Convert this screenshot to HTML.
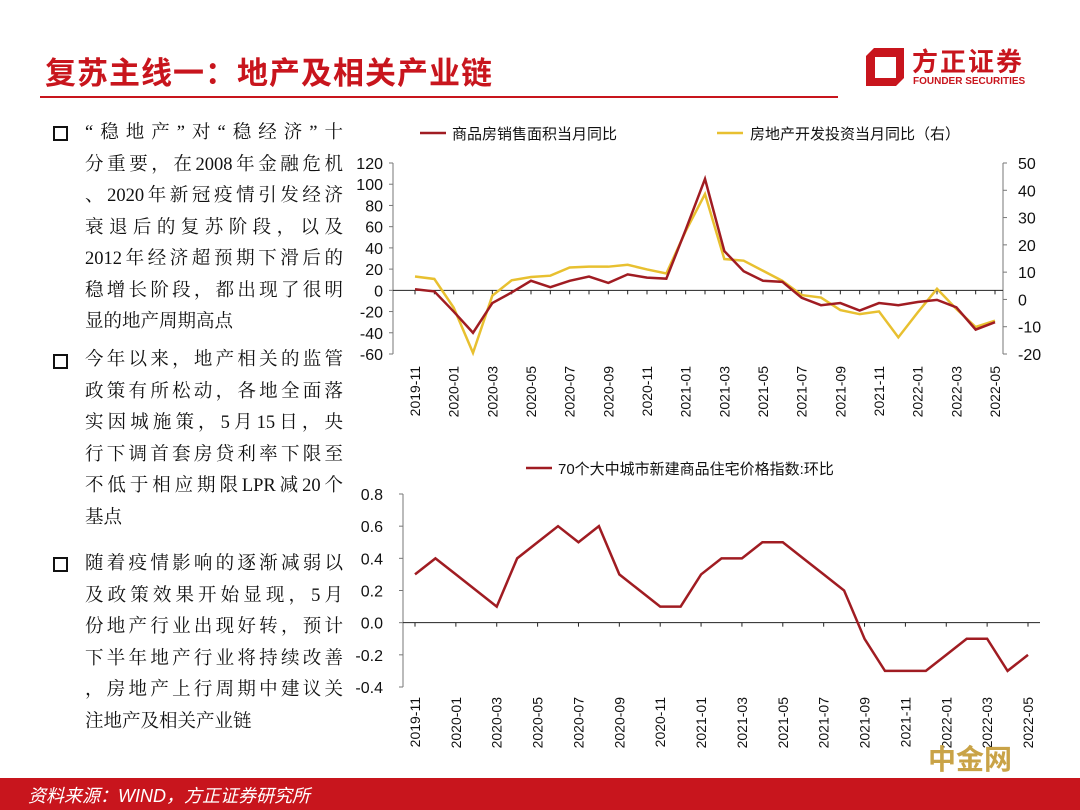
<!DOCTYPE html>
<html><head><meta charset="utf-8">
<style>
body{margin:0;width:1080px;height:810px;overflow:hidden;background:#fff;position:relative;font-family:"Liberation Serif","Noto Serif CJK SC",serif}
.t{position:absolute}
.para div{height:31.5px;line-height:31.5px;font-size:18.5px;color:#111;text-align:justify;text-align-last:justify;width:258px;white-space:nowrap}
.para div.l{text-align-last:left}
.box{position:absolute;left:53px;width:11px;height:11px;border:2px solid #111}
svg text{font-family:"Liberation Sans","Noto Sans CJK SC",sans-serif}
</style></head><body>
<div class="t" style="left:45px;top:48px;font-size:31px;font-weight:bold;color:#c8151d;font-family:'Liberation Sans','Noto Sans CJK SC',sans-serif;letter-spacing:1px">复苏主线一：地产及相关产业链</div>
<div class="t" style="left:40px;top:96px;width:798px;height:2px;background:#c8151d"></div>
<div class="t" style="left:864px;top:42px;width:180px;height:50px">
 <svg width="44" height="44" viewBox="0 0 44 44" style="position:absolute;left:0;top:2px"><path d="M10 4 L40 4 L40 34 L32 42 L2 42 L2 12 Z" fill="#c8151d"/><rect x="11" y="13" width="21" height="21" fill="#fff"/></svg>
 <div style="position:absolute;left:48px;top:0;font-size:26px;font-weight:bold;color:#c8151d;font-family:'Noto Sans CJK SC',sans-serif;letter-spacing:2px">方正证券</div>
 <div style="position:absolute;left:49px;top:34px;font-size:10px;font-weight:bold;color:#c8151d;font-family:'Liberation Sans',sans-serif">FOUNDER SECURITIES</div>
</div>

<div class="box" style="top:126px"></div>
<div class="t para" style="left:85px;top:118px">
<div>“稳地产”对“稳经济”十</div><div>分重要，在2008年金融危机</div><div>、2020年新冠疫情引发经济</div><div>衰退后的复苏阶段，以及</div><div>2012年经济超预期下滑后的</div><div>稳增长阶段，都出现了很明</div><div class="l">显的地产周期高点</div></div>
<div class="box" style="top:354px"></div>
<div class="t para" style="left:85px;top:345px">
<div>今年以来，地产相关的监管</div><div>政策有所松动，各地全面落</div><div>实因城施策，5月15日，央</div><div>行下调首套房贷利率下限至</div><div>不低于相应期限LPR减20个</div><div class="l">基点</div></div>
<div class="box" style="top:557px"></div>
<div class="t para" style="left:85px;top:549px">
<div>随着疫情影响的逐渐减弱以</div><div>及政策效果开始显现，5月</div><div>份地产行业出现好转，预计</div><div>下半年地产行业将持续改善</div><div>，房地产上行周期中建议关</div><div class="l">注地产及相关产业链</div></div>

<svg id="chart" width="1080" height="810" style="position:absolute;left:0;top:0"></svg>

<div class="t" style="left:0;top:778px;width:1080px;height:32px;background:#c8151d"></div>
<div class="t" style="left:28px;top:782px;font-size:18px;color:#fff;font-style:italic;font-family:'Liberation Sans','Noto Sans CJK SC',sans-serif">资料来源：WIND，方正证券研究所</div>
<div class="t" style="left:928px;top:738px;font-size:28px;font-weight:bold;color:#c9a347;font-family:'Noto Sans CJK SC',sans-serif">中金网</div>

<script>
const months=[];(function(){let y=2019,m=11;for(let i=0;i<31;i++){months.push(y+'-'+String(m).padStart(2,'0'));m++;if(m>12){m=1;y++;}}})();
const salesYoY=[1,-1,-20,-40,-12,-2,9,3,9,13,7,15,12,11,57,105,37,18,9,8,-7,-14,-12,-19,-12,-14,-11,-9,-16,-37,-30];
const investYoY=[8.4,7.5,-3,-19.6,1.4,7,8.2,8.7,11.7,12,12,12.7,11,9.5,25,38.6,14.8,14.2,10.5,6.8,1.6,0.7,-3.9,-5.4,-4.4,-13.9,-4.8,3.9,-3.5,-10.1,-7.8];
const priceMoM=[0.3,0.4,0.3,0.2,0.1,0.4,0.5,0.6,0.5,0.6,0.3,0.2,0.1,0.1,0.3,0.4,0.4,0.5,0.5,0.4,0.3,0.2,-0.1,-0.3,-0.3,-0.3,-0.2,-0.1,-0.1,-0.3,-0.2];
const leftTicks=[120,100,80,60,40,20,0,-20,-40,-60];
const rightTicks=[50,40,30,20,10,0,-10,-20];
const bottomTicks=[0.8,0.6,0.4,0.2,0.0,-0.2,-0.4];

const svg=document.getElementById('chart');const NS='http://www.w3.org/2000/svg';
function mk(tag,attrs,txt){const e=document.createElementNS(NS,tag);for(const k in attrs)e.setAttribute(k,attrs[k]);if(txt!==undefined)e.textContent=txt;svg.appendChild(e);return e;}

// top chart scales
const tx=i=>415+i*(995-415)/30;
const ty=v=>291-(v)*(354-163)/180*1;
const tyL=v=>163+(120-v)*(354-163)/180;
const tyR=v=>163+(50-v)*(354-163)/70;
// axes
let e;
e=mk('line',{x1:393,y1:163,x2:393,y2:354,stroke:'#777','stroke-width':1});
e=mk('line',{x1:1003,y1:163,x2:1003,y2:354,stroke:'#777','stroke-width':1});
leftTicks.forEach(v=>{const y=tyL(v);mk('line',{x1:389,y1:y,x2:393,y2:y,stroke:'#777'});
 e=mk('text',{x:383,y:y+6,'text-anchor':'end','font-size':16,fill:'#111'},String(v));});
rightTicks.forEach(v=>{const y=tyR(v);mk('line',{x1:1003,y1:y,x2:1007,y2:y,stroke:'#777'});
 e=mk('text',{x:1018,y:y+6,'font-size':16,fill:'#111'},String(v));});
e=mk('line',{x1:393,y1:tyL(0),x2:1003,y2:tyL(0),stroke:'#222','stroke-width':1});
months.forEach((m,i)=>{const x=tx(i);mk('line',{x1:x,y1:tyL(0),x2:x,y2:tyL(0)+4,stroke:'#222'});
 if(i%2===0){e=mk('text',{x:0,y:0,'font-size':14,fill:'#111','text-anchor':'end',transform:`translate(${x+5},366) rotate(-90)`},m);}});
e=mk('polyline',{points:investYoY.map((v,i)=>tx(i)+','+tyR(v)).join(' '),fill:'none',stroke:'#e8c030','stroke-width':2.5});
e=mk('polyline',{points:salesYoY.map((v,i)=>tx(i)+','+tyL(v)).join(' '),fill:'none',stroke:'#a01c22','stroke-width':2.5});
// legend
mk('line',{x1:420,y1:133,x2:446,y2:133,stroke:'#a01c22','stroke-width':2.5});
e=mk('text',{x:452,y:139,'font-size':15,fill:'#111'},'商品房销售面积当月同比');
mk('line',{x1:717,y1:133,x2:743,y2:133,stroke:'#e8c030','stroke-width':2.5});
e=mk('text',{x:750,y:139,'font-size':15,fill:'#111'},'房地产开发投资当月同比（右）');

// bottom chart
const bx=i=>415+i*(1028-415)/30;
const by=v=>494+(0.8-v)*(687-494)/1.2;
e=mk('line',{x1:403,y1:494,x2:403,y2:687,stroke:'#777'});
bottomTicks.forEach(v=>{const y=by(v);mk('line',{x1:399,y1:y,x2:403,y2:y,stroke:'#777'});
 e=mk('text',{x:383,y:y+6,'text-anchor':'end','font-size':16,fill:'#111'},v.toFixed(1));});
e=mk('line',{x1:403,y1:by(0),x2:1040,y2:by(0),stroke:'#222'});
months.forEach((m,i)=>{const x=bx(i);if(i%2===0)mk('line',{x1:x,y1:by(0),x2:x,y2:by(0)+4,stroke:'#222'});
 if(i%2===0){e=mk('text',{x:0,y:0,'font-size':14,fill:'#111','text-anchor':'end',transform:`translate(${x+5},697) rotate(-90)`},m);}});
e=mk('polyline',{points:priceMoM.map((v,i)=>bx(i)+','+by(v)).join(' '),fill:'none',stroke:'#a01c22','stroke-width':2.5});
mk('line',{x1:526,y1:468,x2:552,y2:468,stroke:'#a01c22','stroke-width':2.5});
e=mk('text',{x:558,y:474,'font-size':15,fill:'#111'},'70个大中城市新建商品住宅价格指数:环比');
</script>
</body></html>
